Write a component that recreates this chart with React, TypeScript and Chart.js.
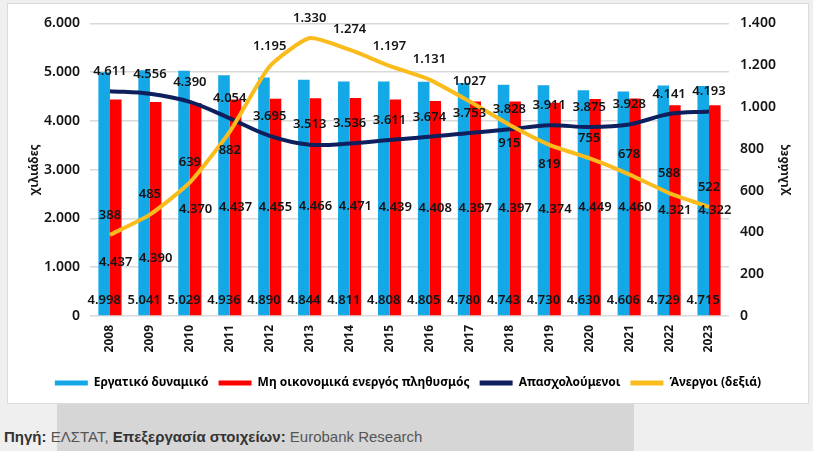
import React, { useEffect, useRef } from "react";
import { Chart, registerables } from "chart.js";

Chart.register(...registerables);

const years = ["2008", "2009", "2010", "2011", "2012", "2013", "2014", "2015", "2016", "2017", "2018", "2019", "2020", "2021", "2022", "2023"];
const labourForce = [4998, 5041, 5029, 4936, 4890, 4844, 4811, 4808, 4805, 4780, 4743, 4730, 4630, 4606, 4729, 4715];
const inactive = [4437, 4390, 4370, 4437, 4455, 4466, 4471, 4439, 4408, 4397, 4397, 4374, 4449, 4460, 4321, 4322];
const employed = [4611, 4556, 4390, 4054, 3695, 3513, 3536, 3611, 3674, 3753, 3828, 3911, 3875, 3928, 4141, 4193];
const unemployed = [388, 485, 639, 882, 1195, 1330, 1274, 1197, 1131, 1027, 915, 819, 755, 678, 588, 522];

const seriesNames = ["Εργατικό δυναμικό", "Μη οικονομικά ενεργός πληθυσμός", "Απασχολούμενοι", "Άνεργοι (δεξιά)"];
const axisTitle = "χιλιάδες";

// label placement tweaks (pixels), kept apart from data
const inactiveLabelNudge = [55, 50, 0, 0, 0, 0, 0, 0, 0, 0, 0, 0, 0, 0, 0, 0];
const unemployedLabelBelow = [false, false, false, true, false, false, false, false, false, false, true, true, false, false, false, false];

const COLORS = ["#14a9e6", "#ff0000", "#0d1f5c", "#f9bc1c"];
const FONT = "'Noto Sans', sans-serif";

const fmt = (n: number) => String(n).replace(/\B(?=(\d{3})+(?!\d))/g, ".");

const labelPlugin = {
  id: "valueLabels",
  afterDatasetsDraw(chart: any) {
    const ctx = chart.ctx;
    const yL = chart.scales.y;
    ctx.save();
    ctx.font = `600 13px ${FONT}`;
    ctx.fillStyle = "#141414";
    ctx.textAlign = "center";
    ctx.textBaseline = "middle";
    const zero = yL.getPixelForValue(0);
    chart.getDatasetMeta(0).data.forEach((bar: any, i: number) => {
      ctx.fillText(fmt(labourForce[i]), bar.x, zero - 16);
    });
    chart.getDatasetMeta(1).data.forEach((bar: any, i: number) => {
      const mid = (bar.y + bar.base) / 2;
      ctx.fillText(fmt(inactive[i]), bar.x, mid + inactiveLabelNudge[i]);
    });
    chart.getDatasetMeta(2).data.forEach((pt: any, i: number) => {
      ctx.fillText(fmt(employed[i]), pt.x, pt.y - 20);
    });
    chart.getDatasetMeta(3).data.forEach((pt: any, i: number) => {
      ctx.fillText(fmt(unemployed[i]), pt.x, pt.y + (unemployedLabelBelow[i] ? 19 : -20));
    });
    ctx.restore();
  },
};

const titlePlugin = {
  id: "axisTitles",
  afterDraw(chart: any) {
    const ctx = chart.ctx;
    const { top, bottom } = chart.chartArea;
    const cy = (top + bottom) / 2;
    ctx.save();
    ctx.font = `bold 12px ${FONT}`;
    ctx.fillStyle = "#141414";
    ctx.textAlign = "center";
    ctx.textBaseline = "middle";
    [27, 777].forEach((x) => {
      ctx.save();
      ctx.translate(x, cy);
      ctx.rotate(-Math.PI / 2);
      ctx.fillText(axisTitle, 0, 0);
      ctx.restore();
    });
    ctx.restore();
  },
};

export default function App() {
  const ref = useRef<HTMLCanvasElement | null>(null);

  useEffect(() => {
    if (!ref.current) return;
    const chart = new Chart(ref.current, {
      type: "bar",
      data: {
        labels: years,
        datasets: [
          { type: "bar", label: seriesNames[0], data: labourForce, backgroundColor: COLORS[0], yAxisID: "y", order: 2, barPercentage: 1, categoryPercentage: 0.58 },
          { type: "bar", label: seriesNames[1], data: inactive, backgroundColor: COLORS[1], yAxisID: "y", order: 3, barPercentage: 1, categoryPercentage: 0.58 },
          { type: "line", label: seriesNames[2], data: employed, borderColor: COLORS[2], backgroundColor: COLORS[2], borderWidth: 4, pointRadius: 0, tension: 0.35, yAxisID: "y", order: 1 },
          { type: "line", label: seriesNames[3], data: unemployed, borderColor: COLORS[3], backgroundColor: COLORS[3], borderWidth: 4, pointRadius: 0, tension: 0.18, yAxisID: "y1", order: 0 },
        ] as any,
      },
      options: {
        responsive: false,
        animation: false,
        devicePixelRatio: 1,
        layout: { padding: { top: 19, left: 0, right: 0, bottom: 4 } },
        plugins: {
          tooltip: { enabled: false },
          legend: {
            position: "bottom",
            labels: {
              boxWidth: 33,
              boxHeight: 5,
              padding: 10,
              color: "#141414",
              font: { family: FONT, size: 12, weight: "bold" },
              generateLabels: (c: any) =>
                c.data.datasets.map((ds: any, i: number) => ({
                  text: ds.label,
                  fillStyle: COLORS[i],
                  strokeStyle: COLORS[i],
                  lineWidth: 0,
                  hidden: false,
                  datasetIndex: i,
                })),
            },
          },
        },
        scales: {
          x: {
            grid: { display: false, drawTicks: false },
            border: { display: false },
            ticks: { maxRotation: 90, minRotation: 90, padding: 9, color: "#141414", font: { family: FONT, size: 12, weight: "bold" } },
            afterFit: (s: any) => { s.height = 51; },
          },
          y: {
            position: "left",
            min: 0,
            max: 6000,
            ticks: { stepSize: 1000, padding: 10, color: "#141414", font: { family: FONT, size: 14, weight: "600" }, callback: (v: any) => fmt(Number(v)) },
            grid: { color: "#d9d9d9", lineWidth: 1.5, drawTicks: false },
            border: { display: false },
            afterFit: (s: any) => { s.width = 82; },
          },
          y1: {
            position: "right",
            min: 0,
            max: 1400,
            ticks: { stepSize: 200, padding: 11, color: "#141414", font: { family: FONT, size: 14, weight: "600" }, callback: (v: any) => fmt(Number(v)) },
            grid: { display: false, drawTicks: false },
            border: { display: false },
            afterFit: (s: any) => { s.width = 79; },
          },
        },
      } as any,
      plugins: [labelPlugin, titlePlugin],
    });
    return () => chart.destroy();
  }, []);

  return (
    <div style={{ position: "fixed", left: 0, top: 0, width: 813, height: 451, background: "#efefef", overflow: "hidden" }}>
      <div style={{ position: "absolute", left: 7, top: 3, width: 802, height: 401, background: "#ffffff", border: "1px solid #dadada", boxSizing: "border-box" }}>
        <canvas ref={ref} width={800} height={399} style={{ display: "block", width: 800, height: 399 }} />
      </div>
      <div style={{ position: "absolute", left: 57, top: 404, width: 577, height: 47, background: "#d6d6d6" }} />
      <div style={{ position: "absolute", left: 4, top: 428, font: "15px 'Liberation Sans', Arial, sans-serif", color: "#555555", whiteSpace: "nowrap", lineHeight: "18px" }}>
        <b style={{ color: "#333333" }}>Πηγή:</b> ΕΛΣΤΑΤ, <b style={{ color: "#333333" }}>Επεξεργασία στοιχείων:</b> Eurobank Research
      </div>
    </div>
  );
}
